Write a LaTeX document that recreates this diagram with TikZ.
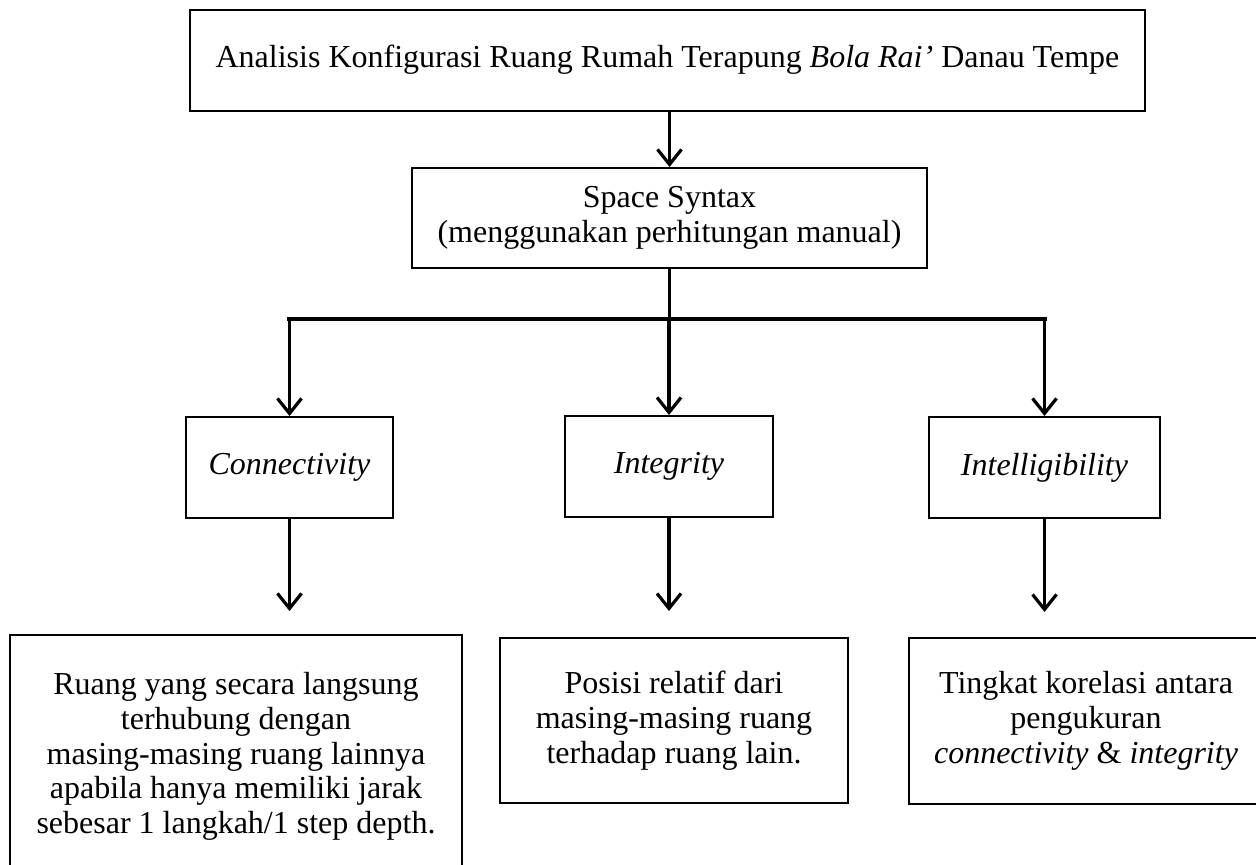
\documentclass[tikz,border=0pt]{standalone}
\usepackage{fontspec}
\setmainfont{Liberation Serif}
\usetikzlibrary{arrows.meta,calc}
\begin{document}
\begin{tikzpicture}[x=1pt,y=-1pt,
  every node/.style={font=\fontsize{32}{34.8}\selectfont},
  box/.style={draw=black,line width=2pt,inner sep=0pt,align=center,fill=white},
  arr/.style={draw=black,line width=3.2pt,-{Straight Barb[length=15pt,width=24pt]}},
  plain/.style={draw=black,line width=3.2pt},
  bar/.style={draw=black,line width=4.6pt,line cap=rect}]
\useasboundingbox (0,0) rectangle (1256,865);
\clip (0,0) rectangle (1256,865);
\fill[white] (0,0) rectangle (1256,865);
% top
\node[box,minimum width=955pt,minimum height=101pt] (top) at (667.5,60)
  {Analisis Konfigurasi Ruang Rumah Terapung \textit{Bola Rai’} Danau Tempe};
\node[box,minimum width=515pt,minimum height=100pt] (ss) at (669.5,218)
  {Space Syntax\\(menggunakan perhitungan manual)};
% middle row
\node[box,minimum width=207pt,minimum height=101pt] (conn) at (289.5,467.5) {\textit{Connectivity}};
\node[box,minimum width=208pt,minimum height=101pt] (integ) at (669,466.5) {\textit{Integrity}};
\node[box,minimum width=231pt,minimum height=101pt] (intel) at (1044.5,467.5) {\textit{Intelligibility}};
% bottom row
\node[box,minimum width=452pt,minimum height=243pt] (d1) at (236,756.5)
  {Ruang yang secara langsung\\terhubung dengan\\masing-masing ruang lainnya\\apabila hanya memiliki jarak\\sebesar 1 langkah/1 step depth.};
\node[box,minimum width=348pt,minimum height=165pt] (d2) at (674,720.5)
  {Posisi relatif dari\\masing-masing ruang\\terhadap ruang lain.};
\node[box,minimum width=354pt,minimum height=166pt] (d3) at (1086,721)
  {Tingkat korelasi antara\\pengukuran\\\textit{connectivity} \& \textit{integrity}};
% connectors
\draw[arr] (top.south -| ss.north) -- (ss.north);
\coordinate (jc) at ($(ss.south)+(0,50)$);
\coordinate (j1) at (conn.north |- jc);
\coordinate (j3) at (intel.north |- jc);
\draw[plain] (ss.south) -- (jc);
\draw[bar] (j1) -- (j3);
\draw[arr] (j1) -- (conn.north);
\draw[arr] (integ.north |- jc) -- (integ.north);
\draw[arr] (j3) -- (intel.north);
\draw[arr,shorten >=23pt] (conn.south) -- (conn.south |- d1.north);
\draw[arr,shorten >=26pt] (integ.south) -- (integ.south |- d2.north);
\draw[arr,shorten >=25pt] (intel.south) -- (intel.south |- d3.north);
\end{tikzpicture}
\end{document}
